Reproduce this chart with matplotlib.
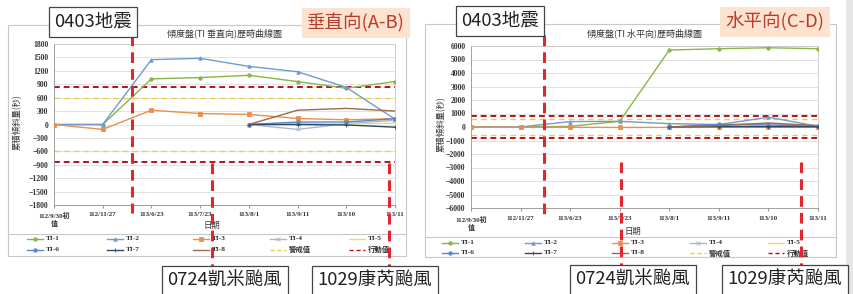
import numpy as np
import matplotlib
matplotlib.use("Agg")
import matplotlib.pyplot as plt
from matplotlib import transforms
from matplotlib.patches import Rectangle

# categories (date labels) shared by both charts
dates = ["112/9/30初\n值", "112/11/27", "113/6/23", "113/7/23",
         "113/8/1", "113/9/11", "113/10", "113/11"]
series_names = ["TI-1", "TI-2", "TI-3", "TI-4", "TI-5", "TI-6", "TI-7", "TI-8"]
nan = np.nan

# vertical (A-B) cumulative tilt, seconds
vert_ti1 = [0, 0, 1020, 1050, 1100, 960, 810, 960]
vert_ti2 = [0, 0, 1450, 1480, 1300, 1180, 830, 120]
vert_ti3 = [0, -110, 320, 245, 225, 135, 105, 130]
vert_ti4 = [nan, nan, nan, nan, 0, -110, 20, 95]
vert_ti5 = [nan, nan, nan, nan, 0, 20, 10, 30]
vert_ti6 = [nan, nan, nan, nan, 0, 55, 55, 130]
vert_ti7 = [nan, nan, nan, nan, 0, 0, -10, -60]
vert_ti8 = [nan, nan, nan, nan, 0, 320, 360, 300]

# horizontal (C-D) cumulative tilt, seconds
horz_ti1 = [0, 0, 50, 420, 5700, 5800, 5870, 5800]
horz_ti2 = [0, 0, 400, 420, 250, 180, 720, 60]
horz_ti3 = [0, -20, -20, -30, -30, -20, -20, -10]
horz_ti4 = [nan, nan, nan, nan, 0, 150, 250, 100]
horz_ti5 = [nan, nan, nan, nan, 0, 50, 80, 60]
horz_ti6 = [nan, nan, nan, nan, 0, 200, 150, 50]
horz_ti7 = [nan, nan, nan, nan, 0, 30, 30, 20]
horz_ti8 = [nan, nan, nan, nan, 0, 100, 300, 100]

warning_value = 600   # 警戒值
action_value = 830    # 行動值

# event positions in category units, per chart
vert_events = {"0403": 1.6, "0724": 3.24, "1029": 6.88}
horz_events = {"0403": 1.47, "0724": 3.02, "1029": 6.65}

colors = ["#8cb449", "#6f9ccc", "#e8904c", "#a9b8cc",
          "#f0dc5a", "#5b86c8", "#2e4a66", "#9c6b4e"]
markers = ["o", "^", "s", "x", "", "o", "+", ""]

CJK = ["Noto Sans CJK TC", "DejaVu Sans"]
SERIF = ["Liberation Serif", "Noto Sans CJK TC"]

W, H = 854, 294
fig = plt.figure(figsize=(W / 100, H / 100), dpi=100)
fig.patch.set_facecolor("white")


def px_axes(x0, y0, x1, y1):
    return fig.add_axes([x0 / W, 1 - y1 / H, (x1 - x0) / W, (y1 - y0) / H])


ov = fig.add_axes([0, 0, 1, 1], zorder=10)
ov.set_xlim(0, W)
ov.set_ylim(H, 0)
ov.axis("off")
ov.patch.set_alpha(0)

# light gray strip on the far right
ov.add_patch(Rectangle((846, 0), 8, H, fc="#e6e6e6", ec="none", zorder=0))


def draw_chart(box, data, ylim, ystep, title, frame, legend_y, sep_y,
               xlabel_pos, ylabel_pos, events, ev_spans, tick_pad):
    ax = px_axes(*box)
    x = np.arange(len(dates))
    for vals, c, m in zip(data, colors, markers):
        ax.plot(x, vals, color=c, lw=1.0, marker=m, ms=2.5, mew=0.6,
                zorder=3)
    lo, hi = ylim
    ax.axhline(action_value, color="#b5121b", lw=1.4, ls=(0, (3, 2)), zorder=2)
    ax.axhline(-action_value, color="#b5121b", lw=1.4, ls=(0, (3, 2)), zorder=2)
    ax.axhline(warning_value, color="#e8d04a", lw=1.0, ls=(0, (4, 3)), zorder=2)
    ax.axhline(-warning_value, color="#e8d04a", lw=1.0, ls=(0, (4, 3)), zorder=2)
    ax.set_xlim(0, len(dates) - 1)
    ax.set_ylim(lo, hi)
    ax.set_yticks(np.arange(lo, hi + 1, ystep))
    ax.set_xticks(x)
    ax.set_xticklabels(dates, fontfamily=SERIF, fontweight="bold",
                       fontsize=5, color="#333333", linespacing=1.1)
    for lab in ax.get_yticklabels():
        lab.set_fontfamily(SERIF)
        lab.set_fontweight("bold")
        lab.set_fontsize(5.5)
        lab.set_color("#333333")
    ax.tick_params(axis="x", length=2, pad=tick_pad, color="#999999")
    ax.tick_params(axis="y", length=0, pad=4)
    ax.grid(axis="y", color="#dcdcdc", lw=0.6)
    ax.set_axisbelow(True)
    for s in ax.spines.values():
        s.set_color("#c8c8c8")
        s.set_linewidth(0.6)
    ax.spines["left"].set_color("#909090")
    ax.spines["bottom"].set_color("#909090")

    # titles / labels
    ov.text((box[0] + box[2]) / 2, 33, title, ha="center", va="center",
            fontsize=6.5, family=CJK, color="#333333")
    ov.text(xlabel_pos[0], xlabel_pos[1], "日期", ha="center", va="center",
            fontsize=6, family=CJK, color="#333333")
    ov.text(ylabel_pos[0], ylabel_pos[1], "累積傾斜量(秒)", ha="center",
            va="center", rotation=90, fontsize=6, family=CJK, color="#333333")

    # outer chart frame and legend box
    fx0, fy0, fx1, fy1 = frame
    ov.add_patch(Rectangle((fx0, fy0), fx1 - fx0, fy1 - fy0, fc="none",
                           ec="#c8c8c8", lw=0.8, zorder=1))
    ov.plot([fx0, fx1], [sep_y, sep_y], color="#c8c8c8", lw=0.8, zorder=1)

    # legend
    col_x, rows = legend_y
    entries = [(n, c, m, "-") for n, c, m in zip(series_names, colors, markers)]
    entries += [("警戒值", "#e8d04a", "", (0, (3, 2))),
                ("行動值", "#b5121b", "", (0, (3, 2)))]
    for i, (name, c, m, ls) in enumerate(entries):
        cx = col_x[i % 5]
        ry = rows[i // 5]
        ov.plot([cx, cx + 16], [ry, ry], color=c, lw=1.0, ls=ls, zorder=2)
        if m:
            ov.plot([cx + 8], [ry], color=c, marker=m, ms=2.5, mew=0.6,
                    zorder=2)
        ov.text(cx + 19, ry, name, ha="left", va="center", fontsize=5.3,
                family=SERIF, fontweight="bold", color="#333333")

    # red event dashes
    blend = transforms.blended_transform_factory(ax.transData, ov.transData)
    for key, (ya, yb) in ev_spans.items():
        xe = events[key]
        ov.plot([xe, xe], [ya, yb], transform=blend, color="#e3262d",
                lw=2.2, ls=(0, (3.5, 2)), zorder=4, clip_on=False)
    return ax


vert_data = [vert_ti1, vert_ti2, vert_ti3, vert_ti4,
             vert_ti5, vert_ti6, vert_ti7, vert_ti8]
horz_data = [horz_ti1, horz_ti2, horz_ti3, horz_ti4,
             horz_ti5, horz_ti6, horz_ti7, horz_ti8]

draw_chart((54, 44, 395, 205), vert_data, (-1800, 1800), 300,
           "傾度盤(TI 垂直向)歷時曲線圖", (8, 25, 406, 256),
           ([27, 107, 193, 270, 349], [239, 249.5]), 234,
           (212, 225), (17, 122), vert_events,
           {"0403": (35, 213), "0724": (163, 268), "1029": (163, 268)}, 3)

draw_chart((471, 46, 818, 208), horz_data, (-6000, 6000), 1000,
           "傾度盤(TI 水平向)歷時曲線圖", (425, 24, 836, 257),
           ([442, 525, 612, 690, 768], [243, 253]), 237,
           (633, 231), (441, 124), horz_events,
           {"0403": (35, 215), "0724": (162, 265), "1029": (162, 265)}, 4)

# event / direction label boxes
box_kw = dict(boxstyle="square,pad=0.3", fc="white", ec="#444444", lw=0.9)
dir_kw = dict(boxstyle="square,pad=0.3", fc="#fde3cf", ec="none")
labels = [
    (93, 22, "0403地震", box_kw, "#222222"),
    (356, 23, "垂直向(A-B)", dir_kw, "#b83a2a"),
    (500, 21, "0403地震", box_kw, "#222222"),
    (775, 22, "水平向(C-D)", dir_kw, "#b83a2a"),
    (225, 281, "0724凱米颱風", box_kw, "#222222"),
    (375, 281, "1029康芮颱風", box_kw, "#222222"),
    (633, 280, "0724凱米颱風", box_kw, "#222222"),
    (785, 280, "1029康芮颱風", box_kw, "#222222"),
]
for lx, ly, txt, kw, tc in labels:
    ov.text(lx, ly, txt, ha="center", va="center", fontsize=13.3, family=CJK,
            color=tc, bbox=kw, zorder=6)

fig.savefig("out.png", dpi=100)
